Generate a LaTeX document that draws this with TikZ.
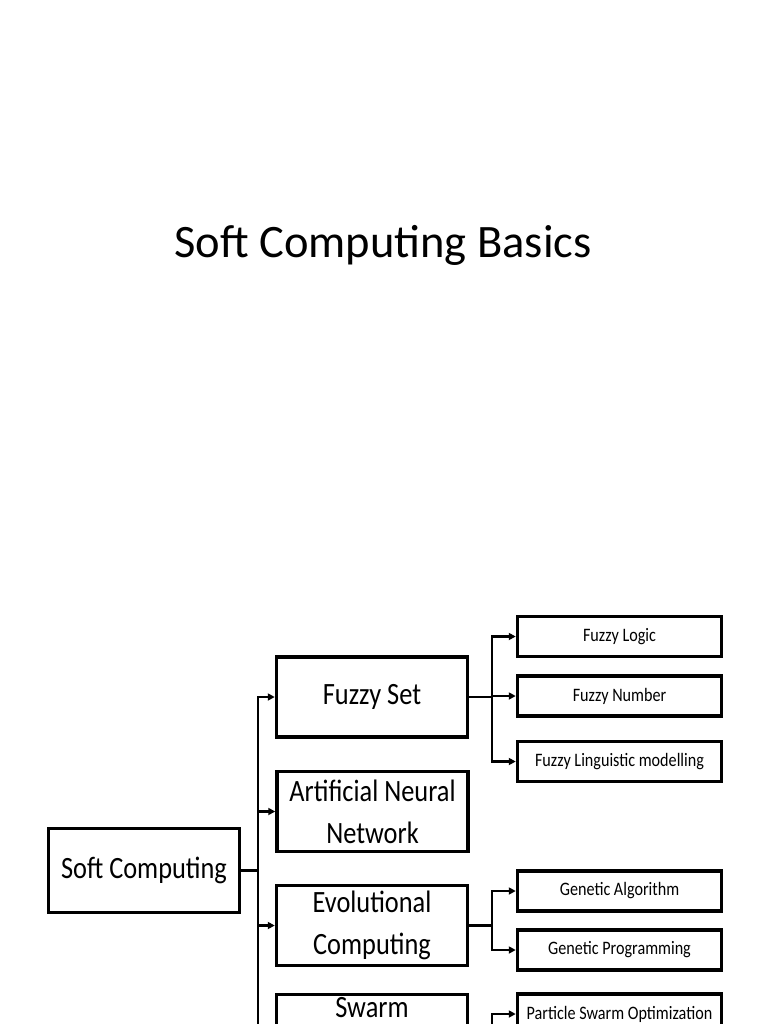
\documentclass[tikz,border=0pt]{standalone}
\usepackage{fontspec}
\setmainfont{Carlito}
\newfontfamily\boxfont[FakeStretch=0.85]{Carlito}
\usetikzlibrary{arrows.meta}

\begin{document}
\begin{tikzpicture}[x=1pt, y=-1pt,
        bigbox/.style={draw=black, line width=3.5pt, minimum width=191pt, minimum height=80pt, inner sep=1pt, align=center, font=\boxfont\fontsize{31}{42}\selectfont},
        leafbox/.style={draw=black, line width=3.5pt, minimum width=204pt, minimum height=40pt, inner sep=1pt, font=\boxfont\fontsize{19}{22}\selectfont},
        link/.style={line width=2.2pt, -{Triangle[length=7pt, width=7pt]}}]

    % Page frame and clipping
    \useasboundingbox (0,0) rectangle (768,1024);
    \clip (0,0) rectangle (768,1024);
    \fill[white] (0,0) rectangle (768,1024);

    % Draw the title
    \node[anchor=base, font=\fontsize{46.5}{56}\selectfont] (title) at (383,257) {Soft Computing Basics};

    % Draw the root
    \node[bigbox, minimum height=84pt] (soft) at (144,870.5) {Soft Computing};

    % Draw the main branches
    \node[bigbox] (fuzzy) at (372,697) {Fuzzy Set};
    \node[bigbox] (ann) at (372.5,811.5) {Artificial Neural\\Network};
    \node[bigbox] (evo) at (372,925.5) {Evolutional\\Computing};
    \node[bigbox] (swarm) at (372,1034.5) {Swarm\\\strut};

    % Draw the leaves of Fuzzy Set
    \node[leafbox] (flogic) at (619.5,636.5) {Fuzzy Logic};
    \node[leafbox] (fnum) at (619.5,696) {Fuzzy Number};
    \node[leafbox] (fling) at (619.5,761.5) {Fuzzy Linguistic modelling};

    % Draw the leaves of Evolutional Computing
    \node[leafbox] (ga) at (619.5,891) {Genetic Algorithm};
    \node[leafbox] (gp) at (619.5,950) {Genetic Programming};

    % Draw the leaves of Swarm
    \node[leafbox] (pso) at (619.5,1014) {Particle Swarm Optimization};

    % Connect the root to the main branches
    \draw[link] (soft.east) -- ++(17,0) |- (fuzzy.west);
    \draw[link] (soft.east) -- ++(17,0) |- (ann.west);
    \draw[link] (soft.east) -- ++(17,0) |- (evo.west);
    \draw[link] (soft.east) -- ++(17,0) |- (swarm.west);

    % Connect the main branches to the leaves
    \draw[link] (fuzzy.east) -- ++(23,0) |- (flogic.west);
    \draw[link] (fuzzy.east) -- ++(23,0) |- (fnum.west);
    \draw[link] (fuzzy.east) -- ++(23,0) |- (fling.west);
    \draw[link] (evo.east) -- ++(23,0) |- (ga.west);
    \draw[link] (evo.east) -- ++(23,0) |- (gp.west);
    \draw[link] (swarm.east) -- ++(23,0) |- (pso.west);

\end{tikzpicture}
\end{document}
